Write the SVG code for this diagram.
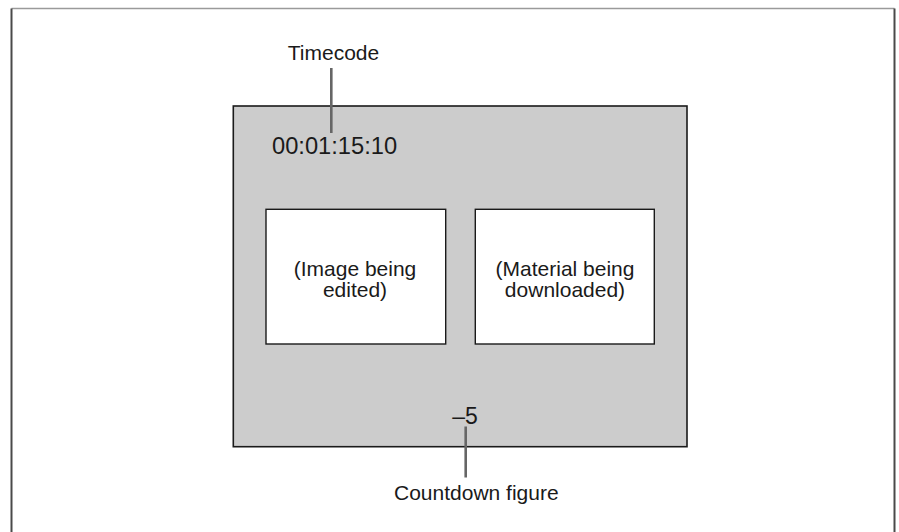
<svg xmlns="http://www.w3.org/2000/svg" width="899" height="532" viewBox="0 0 899 532">
  <style>
    .label { font-family: "Liberation Sans", Arial, sans-serif; font-size: 21px; fill: #1a1a1a; }
    .frame { fill: none; stroke: #4a4a4a; stroke-width: 2; }
    .screen { fill: #cccccc; stroke: #1a1a1a; stroke-width: 1.6; }
    .window { fill: #ffffff; stroke: #1a1a1a; stroke-width: 1.4; }
    .leader { stroke: #666666; stroke-width: 2.6; fill: none; }
  </style>

  <!-- outer page frame (open at the bottom) -->
  <g id="frame">
    <line x1="11.5" y1="8.5" x2="894.5" y2="8.5" stroke="#9a9a9a" stroke-width="1.5"/>
    <path class="frame" d="M11.5 532 V8.5 M894.5 8.5 V532"/>
  </g>

  <!-- monitor screen -->
  <g id="screen">
    <rect class="screen" x="233.3" y="106" width="453.7" height="340.7"/>
    <text class="label" x="272" y="154" style="font-size:23.7px">00:01:15:10</text>
    <text class="label" x="465" y="424" text-anchor="middle" style="font-size:23px">–5</text>
  </g>

  <g id="edited-window">
    <rect class="window" x="266" y="209.3" width="179.7" height="134.7"/>
    <text class="label" x="355" y="276" text-anchor="middle">(Image being</text>
    <text class="label" x="355" y="297" text-anchor="middle">edited)</text>
  </g>

  <g id="download-window">
    <rect class="window" x="475.3" y="209.3" width="179" height="134.7"/>
    <text class="label" x="565" y="276" text-anchor="middle">(Material being</text>
    <text class="label" x="565" y="297" text-anchor="middle">downloaded)</text>
  </g>

  <g id="timecode-label">
    <text class="label" x="333.5" y="60" text-anchor="middle">Timecode</text>
  </g>

  <g id="countdown-label">
    <text class="label" x="476.3" y="500" text-anchor="middle">Countdown figure</text>
  </g>

  <!-- leader lines -->
  <g id="connectors">
    <line class="leader" x1="331.3" y1="68" x2="331.3" y2="133"/>
    <line class="leader" x1="465.7" y1="426.5" x2="465.7" y2="477.5"/>
  </g>
</svg>
